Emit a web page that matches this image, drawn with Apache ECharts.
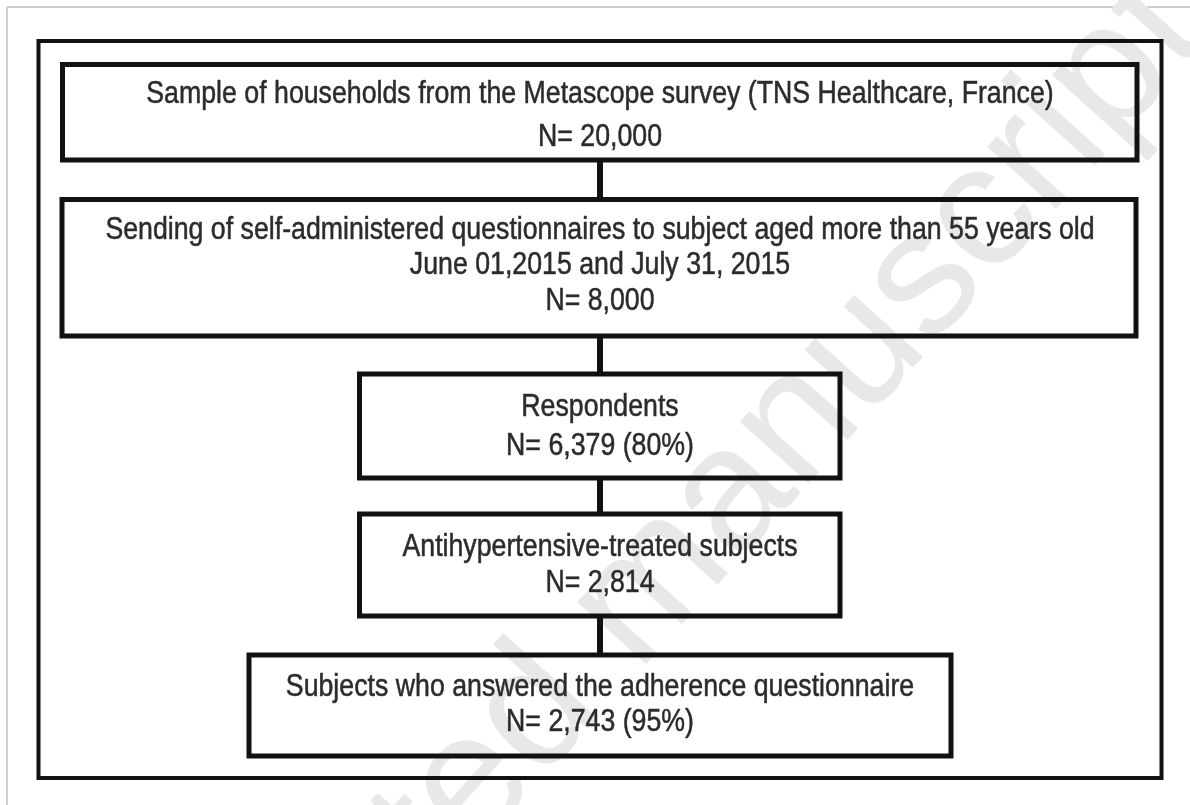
<!DOCTYPE html>
<html><head><meta charset="utf-8">
<script src="https://cdn.jsdelivr.net/npm/echarts@6/dist/echarts.min.js"></script>
<style>html,body{margin:0;padding:0;background:#fff}#c{width:1190px;height:805px}</style>
</head><body><div id="c"></div>
<script>
// ---- data ----
const stageTitles = [
  ["Sample of households from the Metascope survey (TNS Healthcare, France)"],
  ["Sending of self-administered questionnaires to subject aged more than 55 years old", "June 01,2015 and July 31, 2015"],
  ["Respondents"],
  ["Antihypertensive-treated subjects"],
  ["Subjects who answered the adherence questionnaire"]
];
const stageCounts = ["20,000", "8,000", "6,379", "2,814", "2,743"];
const stagePercents = [null, null, "80%", null, "95%"];
const watermarkText = "Accepted manuscript";

// ---- layout (pixels) ----
const boxX0 = [62.5, 62, 359.5, 359.5, 249];
const boxX1 = [1137, 1136, 840, 840, 951];
const boxY0 = [64.5, 199.5, 374, 514, 655];
const boxY1 = [160, 336, 478, 616, 756];
const lineFirst = [94, 230, 407, 547, 687];
const lineGap = [43, 35.5, 39, 36, 35.5];
const connectorX = 600;

const FONT = '32px "Liberation Sans", Arial, Helvetica, sans-serif';
const SX = 0.835;

function stageLines(i) {
  const lines = stageTitles[i].slice();
  let n = 'N= ' + stageCounts[i];
  if (stagePercents[i]) n += ' (' + stagePercents[i] + ')';
  lines.push(n);
  return lines;
}

const chart = echarts.init(document.getElementById('c'), null, {renderer: 'canvas'});

function renderItem(params, api) {
  const i = api.value(0);
  const p0 = api.coord([boxX0[i], boxY0[i]]);
  const p1 = api.coord([boxX1[i], boxY1[i]]);
  const children = [];
  children.push({
    type: 'rect',
    shape: {x: p0[0], y: p0[1], width: p1[0] - p0[0], height: p1[1] - p0[1]},
    style: {fill: 'rgba(0,0,0,0)', stroke: '#111', lineWidth: 5}
  });
  const lines = stageLines(i);
  lines.forEach(function (t, k) {
    const c = api.coord([connectorX, lineFirst[i] + k * lineGap[i]]);
    children.push({
      type: 'text',
      x: c[0], y: c[1], scaleX: SX,
      style: {text: t, x: 0, y: 0, font: FONT, fill: '#2b2b2b', stroke: '#444', lineWidth: 0.6,
              align: 'center', verticalAlign: 'middle'}
    });
  });
  if (i > 0) {
    const a = api.coord([connectorX, boxY1[i - 1]]);
    const b = api.coord([connectorX, boxY0[i]]);
    children.push({
      type: 'line',
      shape: {x1: a[0], y1: a[1] + 2, x2: b[0], y2: b[1] - 2},
      style: {stroke: '#111', lineWidth: 6}
    });
  }
  return {type: 'group', children: children};
}

const wmRot = 48 * Math.PI / 180;

chart.setOption({
  animation: false,
  backgroundColor: '#fff',
  grid: {left: 0, right: 0, top: 0, bottom: 0},
  xAxis: {type: 'value', min: 0, max: 1190, show: false},
  yAxis: {type: 'value', min: 0, max: 805, inverse: true, show: false},
  graphic: [
    {type: 'line', shape: {x1: 7, y1: 7, x2: 1190, y2: 7}, style: {stroke: '#cfcfcf', lineWidth: 2}, z: 0},
    {type: 'line', shape: {x1: 7, y1: 7, x2: 7, y2: 805}, style: {stroke: '#cfcfcf', lineWidth: 2}, z: 0},
    {type: 'text', x: 628, y: 612, rotation: wmRot, z: 0,
     style: {text: watermarkText, font: '175px "Liberation Sans", Arial, sans-serif', fill: '#e8e8e8', align: 'center', verticalAlign: 'middle'}},
    {type: 'rect', shape: {x: 38.5, y: 41, width: 1123, height: 737}, style: {fill: 'rgba(0,0,0,0)', stroke: '#111', lineWidth: 4}, z: 10}
  ],
  series: [{
    type: 'custom',
    renderItem: renderItem,
    data: stageTitles.map(function (_, i) { return [i]; }),
    z: 10
  }]
});
</script></body></html>
